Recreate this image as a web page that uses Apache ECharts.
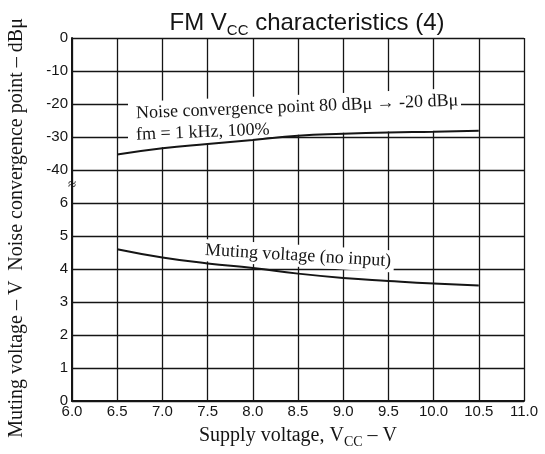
<!DOCTYPE html>
<html><head><meta charset="utf-8">
<script src="https://cdn.jsdelivr.net/npm/echarts@6/dist/echarts.min.js"></script>
<style>html,body{margin:0;padding:0;background:#fff}#c{width:545px;height:454px}</style>
</head><body><div id="c"></div>
<script>
// ---- data ----
const supplyVoltage = [6.5, 7.0, 7.5, 8.0, 8.5, 9.0, 9.5, 10.0, 10.5];          // V
const noiseConvergence = [-35.3, -33.4, -32.1, -30.9, -29.6, -29.0, -28.6, -28.4, -28.1]; // dBμ
const mutingVoltage = [4.6, 4.35, 4.17, 4.03, 3.86, 3.73, 3.64, 3.56, 3.5];     // V
const xTickLabels = ['6.0','6.5','7.0','7.5','8.0','8.5','9.0','9.5','10.0','10.5','11.0'];
const noiseTickLabels = ['0','-10','-20','-30','-40'];
const mutingTickLabels = ['0','1','2','3','4','5','6'];

const INK = '#151515';
const chart = echarts.init(document.getElementById('c'));

const xCommon = {
  type: 'value', min: 6, max: 11, interval: 0.5,
  axisTick: { show: false },
  splitLine: { show: true, lineStyle: { color: INK, width: 1.3 } }
};
const labelSans = { fontFamily: 'Liberation Sans', fontSize: 15, color: INK };

const option = {
  animation: false,
  backgroundColor: '#fff',
  title: {
    text: '{a|FM V}{s|CC}{a| characteristics (4)}',
    left: 302, top: 3, textAlign: 'center',
    textStyle: {
      fontWeight: 'normal',
      rich: {
        a: { fontFamily: 'Liberation Sans', fontSize: 24, fontWeight: 'normal', color: INK, lineHeight: 30 },
        s: { fontFamily: 'Liberation Sans', fontSize: 15, fontWeight: 'normal', color: INK, lineHeight: 15, verticalAlign: 'bottom' }
      }
    }
  },
  grid: [
    { left: 72, right: 21, top: 38, height: 165 },
    { left: 72, right: 21, top: 203, height: 198 }
  ],
  xAxis: [
    Object.assign({}, xCommon, { gridIndex: 0, axisLabel: { show: false }, axisLine: { show: false } }),
    Object.assign({}, xCommon, {
      gridIndex: 1,
      axisLine: { show: true, lineStyle: { color: INK, width: 2 } },
      axisLabel: Object.assign({}, labelSans, { margin: 3,
        formatter: v => xTickLabels[Math.round((v - 6) / 0.5)] }),
      name: '{a|Supply voltage, V}{s|CC}{a| – V}',
      nameLocation: 'middle', nameGap: 22,
      nameTextStyle: {
        rich: {
          a: { fontFamily: 'Liberation Serif', fontSize: 20, color: INK, lineHeight: 26 },
          s: { fontFamily: 'Liberation Serif', fontSize: 14, color: INK, lineHeight: 14, verticalAlign: 'bottom' }
        }
      }
    })
  ],
  yAxis: [
    {
      gridIndex: 0, type: 'value', min: -50, max: 0, interval: 10,
      axisTick: { show: false },
      axisLine: { show: true, lineStyle: { color: INK, width: 2 } },
      splitLine: { show: true, lineStyle: { color: INK, width: 1.3 } },
      axisLabel: Object.assign({}, labelSans, { margin: 4,
        formatter: v => { const i = Math.round(-v / 10); return noiseTickLabels[i] || ''; } })
    },
    {
      gridIndex: 1, type: 'value', min: 0, max: 6, interval: 1,
      axisTick: { show: false },
      axisLine: { show: true, lineStyle: { color: INK, width: 2 } },
      splitLine: { show: true, showMaxLine: false, lineStyle: { color: INK, width: 1.3 } },
      axisLabel: Object.assign({}, labelSans, { margin: 4,
        formatter: v => mutingTickLabels[Math.round(v)] })
    }
  ],
  series: [
    {
      name: 'Noise convergence point', type: 'line', xAxisIndex: 0, yAxisIndex: 0,
      data: supplyVoltage.map((x, i) => [x, noiseConvergence[i]]),
      smooth: true, symbol: 'none', z: 5,
      lineStyle: { color: INK, width: 2 }
    },
    {
      name: 'Muting voltage', type: 'line', xAxisIndex: 1, yAxisIndex: 1,
      data: supplyVoltage.map((x, i) => [x, mutingVoltage[i]]),
      smooth: true, symbol: 'none', z: 5,
      lineStyle: { color: INK, width: 2 }
    }
  ]
};
chart.setOption(option);

// white mask under the noise-convergence annotation (from label to curve)
const curvePx = supplyVoltage.map((x, i) => chart.convertToPixel({ gridIndex: 0 }, [x, noiseConvergence[i]]));
function curveYAt(px) {
  for (let i = 0; i < curvePx.length - 1; i++) {
    const a = curvePx[i], b = curvePx[i + 1];
    if (px >= a[0] && px <= b[0]) return a[1] + (b[1] - a[1]) * (px - a[0]) / (b[0] - a[0]);
  }
  return curvePx[curvePx.length - 1][1];
}
const mL = 128, mR = 461, topL = 102, topR = 88;
const maskPts = [[mL, topL], [mR, topR], [mR, curveYAt(mR) - 1]];
for (let i = curvePx.length - 1; i >= 0; i--) {
  if (curvePx[i][0] < mR && curvePx[i][0] > mL) maskPts.push([curvePx[i][0], curvePx[i][1] - 1]);
}
maskPts.push([mL, curveYAt(mL) - 1]);

const serif = '18px "Liberation Serif"';
chart.setOption({
  graphic: [
    { type: 'polygon', z: 1, shape: { points: maskPts }, style: { fill: '#fff' }, silent: true },
    { type: 'text', z: 10, x: 136, y: 113.5, rotation: 0.04,
      style: { text: 'Noise convergence point 80 dBμ → -20 dBμ', font: serif, fill: INK, align: 'left', verticalAlign: 'middle' } },
    { type: 'text', z: 10, x: 136, y: 135, rotation: 0.04,
      style: { text: 'fm = 1 kHz, 100%', font: serif, fill: INK, align: 'left', verticalAlign: 'middle' } },
    { type: 'text', z: 10, x: 202, y: 250, rotation: -0.06,
      style: { text: 'Muting voltage (no input)', font: serif, fill: INK, align: 'left', verticalAlign: 'middle',
               backgroundColor: '#fff', padding: [2, 3] } },
    { type: 'text', z: 10, x: 72, y: 185,
      style: { text: '≈', font: '15px "Liberation Serif"', fill: INK, align: 'center', verticalAlign: 'middle' } },
    { type: 'text', z: 10, x: 17, y: 228, rotation: Math.PI / 2,
      style: { text: 'Muting voltage – V  Noise convergence point – dBμ', font: '20px "Liberation Serif"', fill: INK, align: 'center', verticalAlign: 'middle' } }
  ]
});
</script>
</body></html>
